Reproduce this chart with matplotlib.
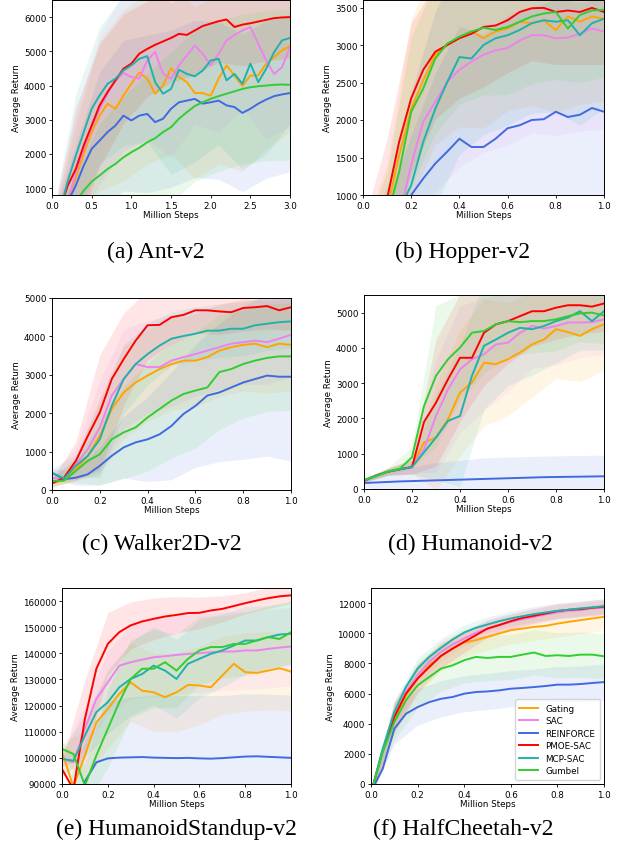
import matplotlib
matplotlib.use("Agg")
import matplotlib.pyplot as plt
import numpy as np

plt.rcParams["font.family"] = ["DejaVu Sans"]

W, H = 619, 854

NAMES = ["Gating", "SAC", "REINFORCE", "PMOE-SAC", "MCP-SAC", "Gumbel"]
COLORS = ["orange", "violet", "royalblue", "red", "lightseagreen", "limegreen"]

# ---- Ant-v2 (0..3M steps) ----
ANT_STEPS = [0.0, 0.1, 0.2, 0.3, 0.4, 0.5, 0.6, 0.7, 0.8, 0.9, 1.0, 1.1, 1.2, 1.3, 1.4, 1.5,
             1.6, 1.7, 1.8, 1.9, 2.0, 2.1, 2.2, 2.3, 2.4, 2.5, 2.6, 2.7, 2.8, 2.9, 3.0]
ANT_GATING = [-200, 100, 700, 1300, 2000, 2640, 3120, 3470, 3320, 3710, 4050, 4380, 4200, 3760,
              4000, 4500, 4250, 4100, 3780, 3780, 3700, 4200, 4590, 4290, 3990, 4290, 4300, 4640,
              4830, 5030, 5150]
ANT_SAC = [-300, 0, 600, 1470, 2150, 2780, 3320, 3760, 4150, 4370, 4250, 4200, 4730, 4980, 4340,
           4200, 4590, 4880, 5170, 4930, 4590, 4930, 5320, 5480, 5610, 5710, 5220, 4730, 4340,
           4540, 5120]
ANT_REINFORCE = [-100, 200, 600, 1080, 1660, 2150, 2390, 2640, 2830, 3120, 2980, 3120, 3170, 2930,
                 3030, 3320, 3510, 3560, 3610, 3470, 3510, 3560, 3420, 3370, 3200, 3320, 3470,
                 3590, 3690, 3740, 3780]
ANT_PMOE = [-200, 400, 1080, 1560, 2250, 2830, 3420, 3810, 4150, 4490, 4640, 4930, 5070, 5190,
            5290, 5390, 5510, 5480, 5610, 5740, 5810, 5880, 5930, 5710, 5780, 5820, 5870, 5920,
            5970, 5990, 6000]
ANT_MCP = [-200, 350, 1220, 1950, 2640, 3320, 3710, 4050, 4200, 4440, 4590, 4780, 4860, 4100,
           3760, 3900, 4460, 4340, 4270, 4440, 4730, 4780, 4150, 4340, 4050, 4640, 4100, 4490,
           4980, 5320, 5390]
ANT_GUMBEL = [-200, 0, 300, 600, 930, 1190, 1370, 1560, 1710, 1900, 2050, 2180, 2340, 2460, 2640,
              2780, 3030, 3220, 3400, 3510, 3610, 3690, 3760, 3830, 3900, 3950, 3980, 4000, 4020,
              4030, 4020]
# std band half-widths at every third step
ANT_GATING_SD = [200, 1500, 2200, 2500, 2500, 2500, 2500, 2500, 2500, 2500, 2500]
ANT_SAC_SD = [200, 1600, 2200, 2300, 2300, 2300, 2300, 2300, 2300, 2300, 2300]
ANT_REINFORCE_SD = [200, 1200, 2000, 2200, 2300, 2300, 2300, 2300, 2300, 2300, 2300]
ANT_PMOE_SD = [300, 1800, 1800, 1600, 1400, 1300, 1300, 1200, 1200, 1200, 1200]
ANT_MCP_SD = [300, 1800, 2000, 2200, 2500, 2500, 2500, 2500, 2500, 2500, 2500]
ANT_GUMBEL_SD = [200, 800, 1500, 1800, 2000, 2200, 2200, 2200, 2200, 2200, 2200]

# ---- shared 0..1M step grid ----
STEPS = [0.0, 0.05, 0.1, 0.15, 0.2, 0.25, 0.3, 0.35, 0.4, 0.45, 0.5,
         0.55, 0.6, 0.65, 0.7, 0.75, 0.8, 0.85, 0.9, 0.95, 1.0]

# ---- Hopper-v2 ----
HOP_GATING = [400, 600, 800, 1530, 2150, 2530, 2870, 3000, 3110, 3180, 3090, 3180, 3220, 3310,
              3290, 3330, 3200, 3380, 3310, 3380, 3350]
HOP_SAC = [400, 500, 600, 700, 1400, 1980, 2240, 2510, 2670, 2780, 2870, 2930, 2960, 3060, 3130,
           3130, 3090, 3100, 3150, 3220, 3180]
HOP_REINFORCE = [400, 500, 600, 700, 1000, 1220, 1420, 1580, 1750, 1640, 1640, 1750, 1890, 1930,
                 2000, 2010, 2110, 2040, 2070, 2160, 2110]
HOP_PMOE = [500, 700, 950, 1710, 2290, 2670, 2910, 3000, 3090, 3150, 3240, 3260, 3330, 3440,
            3490, 3495, 3440, 3460, 3440, 3495, 3440]
HOP_MCP = [400, 500, 600, 800, 1130, 1710, 2150, 2510, 2840, 2820, 3000, 3090, 3130, 3200, 3290,
           3330, 3310, 3330, 3130, 3290, 3350]
HOP_GUMBEL = [400, 550, 700, 1310, 2110, 2420, 2820, 3020, 3110, 3180, 3230, 3200, 3240, 3310,
              3380, 3420, 3440, 3220, 3400, 3460, 3470]
HOP_GATING_SD = [100, 600, 1200, 1200, 1200, 1200, 1100, 1100, 1100, 1100, 1100]
HOP_SAC_SD = [100, 500, 1000, 1200, 1300, 1300, 1300, 1300, 1300, 1300, 1300]
HOP_REINFORCE_SD = [100, 300, 800, 1200, 1500, 1500, 1500, 1500, 1500, 1500, 1500]
HOP_PMOE_SD = [100, 800, 1000, 900, 800, 800, 700, 700, 700, 700, 700]
HOP_MCP_SD = [100, 500, 1200, 1300, 1300, 1200, 1200, 1200, 1200, 1200, 1200]
HOP_GUMBEL_SD = [100, 600, 1000, 1000, 900, 900, 900, 900, 900, 900, 900]

# ---- Walker2D-v2 ----
WLK_GATING = [190, 250, 540, 890, 1410, 2110, 2540, 2800, 2980, 3150, 3280, 3370, 3370, 3460,
              3630, 3720, 3780, 3810, 3720, 3810, 3780]
WLK_SAC = [320, 270, 670, 1060, 1630, 2460, 2890, 3280, 3200, 3200, 3370, 3460, 3540, 3630, 3720,
           3810, 3850, 3890, 3850, 3940, 4040]
WLK_REINFORCE = [450, 280, 320, 410, 630, 890, 1110, 1240, 1320, 1450, 1670, 1980, 2190, 2460,
                 2540, 2670, 2800, 2890, 2980, 2950, 2950]
WLK_PMOE = [170, 320, 760, 1410, 2020, 2890, 3410, 3890, 4290, 4300, 4500, 4560, 4680, 4680, 4650,
            4630, 4740, 4760, 4790, 4680, 4760]
WLK_MCP = [450, 300, 630, 890, 1320, 2190, 2890, 3280, 3540, 3760, 3940, 4010, 4070, 4150, 4150,
           4200, 4200, 4290, 4330, 4370, 4390]
WLK_GUMBEL = [240, 240, 500, 760, 930, 1320, 1500, 1630, 1890, 2110, 2330, 2500, 2590, 2670, 3070,
              3150, 3280, 3370, 3440, 3480, 3480]
WLK_GATING_SD = [100, 300, 1000, 1200, 1200, 1200, 1200, 1200, 1200, 1200, 1200]
WLK_SAC_SD = [100, 400, 1200, 1300, 1200, 1200, 1100, 1100, 1100, 1100, 1100]
WLK_REINFORCE_SD = [100, 200, 500, 800, 1100, 1400, 1600, 1800, 2000, 2100, 2200]
WLK_PMOE_SD = [100, 500, 1500, 1200, 900, 700, 600, 600, 600, 600, 600]
WLK_MCP_SD = [100, 300, 1000, 900, 800, 700, 700, 700, 700, 700, 700]
WLK_GUMBEL_SD = [100, 300, 800, 1200, 1400, 1500, 1500, 1500, 1400, 1400, 1400]

# ---- Humanoid-v2 ----
HUM_GATING = [250, 380, 490, 560, 640, 1320, 1460, 1980, 2730, 3020, 3580, 3540, 3680, 3870,
              4100, 4240, 4530, 4450, 4340, 4530, 4670]
HUM_SAC = [250, 380, 490, 560, 640, 1130, 2070, 2830, 3390, 3680, 3820, 4100, 4150, 4430, 4620,
           4550, 4620, 4720, 4720, 4730, 4810]
HUM_REINFORCE = [170, 185, 200, 215, 225, 235, 245, 255, 265, 275, 285, 295, 305, 315, 325, 335,
                 340, 345, 350, 355, 360]
HUM_PMOE = [230, 380, 490, 560, 620, 1900, 2450, 3110, 3720, 3720, 4430, 4670, 4760, 4900, 5040,
            5040, 5140, 5210, 5210, 5170, 5260]
HUM_MCP = [250, 380, 490, 560, 620, 1040, 1460, 1930, 2070, 3210, 4060, 4240, 4430, 4570, 4530,
           4620, 4760, 4860, 5040, 4760, 5040]
HUM_GUMBEL = [250, 360, 500, 580, 900, 2350, 3210, 3680, 4010, 4430, 4480, 4670, 4760, 4730, 4760,
              4760, 4810, 4900, 4980, 5000, 4920]
HUM_GATING_SD = [50, 100, 200, 1500, 1800, 1800, 1600, 1500, 1400, 1300, 1300]
HUM_SAC_SD = [50, 100, 200, 1600, 1800, 1600, 1400, 1200, 1100, 1000, 1000]
HUM_REINFORCE_SD = [100, 300, 400, 500, 550, 600, 600, 600, 600, 600, 600]
HUM_PMOE_SD = [50, 100, 200, 1800, 1800, 1500, 1200, 1000, 900, 800, 800]
HUM_MCP_SD = [50, 100, 200, 1200, 2000, 1800, 1500, 1300, 1200, 1100, 1100]
HUM_GUMBEL_SD = [50, 100, 300, 2000, 1500, 1200, 1000, 900, 900, 800, 800]

# ---- HumanoidStandup-v2 ----
HST_GATING = [102100, 89000, 100900, 113600, 118700, 124500, 128900, 125700, 125100, 123200,
              125100, 127900, 127700, 127000, 131500, 136000, 132800, 132500, 133400, 134300,
              133000]
HST_SAC = [99600, 98300, 111100, 122600, 128900, 135300, 136600, 137600, 138500, 138900, 139400,
           139800, 140100, 140400, 140700, 140700, 141100, 141100, 141700, 142200, 142600]
HST_REINFORCE = [82000, 76000, 91000, 98300, 99800, 100100, 100200, 100300, 100100, 100000,
                 99900, 100000, 99800, 99700, 99900, 100200, 100500, 100600, 100400, 100200,
                 100000]
HST_PMOE = [95700, 88000, 114900, 134100, 143600, 148100, 150700, 152200, 153200, 154100, 154700,
            155400, 155500, 156400, 157000, 158100, 159200, 160200, 161100, 161800, 162200]
HST_MCP = [99600, 98900, 108500, 117500, 121300, 127000, 130200, 132100, 135300, 133400, 130200,
           136000, 137900, 139800, 141100, 143000, 144900, 144900, 146200, 147200, 147500]
HST_GUMBEL = [103400, 101500, 89400, 100900, 111100, 121300, 130200, 134100, 134100, 136600,
              133400, 137900, 141100, 142400, 142400, 143600, 143600, 144900, 146200, 145500,
              148100]
HST_GATING_SD = [3000, 10000, 15000, 15000, 15000, 15000, 15000, 15000, 15000, 15000, 15000]
HST_SAC_SD = [3000, 8000, 12000, 14000, 15000, 15000, 15000, 15000, 15000, 15000, 15000]
HST_REINFORCE_SD = [3000, 15000, 22000, 23000, 24000, 24000, 24000, 24000, 24000, 24000, 24000]
HST_PMOE_SD = [3000, 15000, 12000, 9000, 8000, 7000, 6000, 5000, 4000, 4000, 3000]
HST_MCP_SD = [3000, 8000, 12000, 14000, 15000, 15000, 15000, 14000, 13000, 12000, 12000]
HST_GUMBEL_SD = [3000, 8000, 15000, 15000, 15000, 14000, 13000, 12000, 12000, 12000, 12000]

# ---- HalfCheetah-v2 ----
HCH_GATING = [-600, 2200, 4330, 5880, 6990, 7870, 8490, 8980, 9380, 9540, 9760, 9980, 10200,
              10310, 10420, 10490, 10640, 10760, 10870, 10980, 11090]
HCH_SAC = [-600, 2200, 4550, 6100, 7210, 8100, 8760, 9250, 9650, 10030, 10310, 10540, 10760,
           10930, 11090, 11250, 11380, 11490, 11530, 11650, 11690]
HCH_REINFORCE = [-500, 1000, 3660, 4660, 5100, 5430, 5650, 5770, 5990, 6100, 6140, 6210, 6320,
                 6370, 6430, 6500, 6590, 6590, 6630, 6700, 6760]
HCH_PMOE = [-600, 2200, 4440, 5990, 6990, 7760, 8490, 8980, 9430, 9870, 10310, 10540, 10800,
            11020, 11160, 11310, 11470, 11560, 11600, 11690, 11760]
HCH_MCP = [-600, 2330, 4770, 6430, 7650, 8430, 9030, 9580, 10050, 10360, 10580, 10800, 10980,
           11130, 11270, 11380, 11490, 11560, 11650, 11710, 11800]
HCH_GUMBEL = [-600, 2100, 4100, 5550, 6540, 7100, 7650, 7870, 8210, 8430, 8360, 8430, 8430, 8580,
              8720, 8490, 8540, 8490, 8580, 8580, 8470]
HCH_GATING_SD = [300, 1000, 1000, 1000, 900, 900, 900, 900, 900, 900, 900]
HCH_SAC_SD = [300, 900, 700, 600, 500, 500, 500, 500, 500, 500, 500]
HCH_REINFORCE_SD = [300, 1000, 1200, 1200, 1200, 1200, 1200, 1200, 1200, 1200, 1200]
HCH_PMOE_SD = [300, 1000, 900, 800, 700, 600, 500, 500, 500, 500, 500]
HCH_MCP_SD = [300, 800, 700, 600, 500, 500, 500, 500, 500, 500, 500]
HCH_GUMBEL_SD = [300, 1200, 1500, 1500, 1500, 1500, 1500, 1500, 1500, 1500, 1500]


def px_axes(fig, left, top, right, bottom):
    """Add axes from pixel box (origin top-left)."""
    return fig.add_axes([left / W, 1 - bottom / H, (right - left) / W, (bottom - top) / H])


def draw_panel(ax, steps, means, sds, xlim, ylim, xticks):
    steps = np.asarray(steps, dtype=float)
    stride = (len(steps) - 1) // (len(sds[0]) - 1)
    for mean, sd, color in zip(means, sds, COLORS):
        m = np.asarray(mean, dtype=float)[::stride]
        s = np.asarray(sd, dtype=float)
        ax.fill_between(steps[::stride], m - s, m + s, color=color, alpha=0.1, lw=0)
    for mean, name, color in zip(means, NAMES, COLORS):
        ax.plot(steps, mean, color=color, lw=1.4, label=name)
    ax.set_xlim(*xlim)
    ax.set_ylim(*ylim)
    ax.set_xticks(xticks)
    ax.ticklabel_format(axis="y", useOffset=False, style="plain")
    ax.tick_params(labelsize=6.3, length=2.5, width=0.6, pad=1.5)
    ax.set_xlabel("Million Steps", fontsize=6.3, labelpad=0.5)
    ax.set_ylabel("Average Return", fontsize=6.3, labelpad=2)
    for sp in ax.spines.values():
        sp.set_linewidth(0.7)


fig = plt.figure(figsize=(W / 100, H / 100), dpi=100)
unit_ticks = [0.0, 0.2, 0.4, 0.6, 0.8, 1.0]

ax = px_axes(fig, 52, 1, 290, 196)
draw_panel(ax, ANT_STEPS,
           [ANT_GATING, ANT_SAC, ANT_REINFORCE, ANT_PMOE, ANT_MCP, ANT_GUMBEL],
           [ANT_GATING_SD, ANT_SAC_SD, ANT_REINFORCE_SD, ANT_PMOE_SD, ANT_MCP_SD, ANT_GUMBEL_SD],
           (0, 3), (800, 6500), [0.0, 0.5, 1.0, 1.5, 2.0, 2.5, 3.0])

ax = px_axes(fig, 363, 1, 604, 196)
draw_panel(ax, STEPS,
           [HOP_GATING, HOP_SAC, HOP_REINFORCE, HOP_PMOE, HOP_MCP, HOP_GUMBEL],
           [HOP_GATING_SD, HOP_SAC_SD, HOP_REINFORCE_SD, HOP_PMOE_SD, HOP_MCP_SD, HOP_GUMBEL_SD],
           (0, 1), (1000, 3600), unit_ticks)

ax = px_axes(fig, 52, 299, 291, 491)
draw_panel(ax, STEPS,
           [WLK_GATING, WLK_SAC, WLK_REINFORCE, WLK_PMOE, WLK_MCP, WLK_GUMBEL],
           [WLK_GATING_SD, WLK_SAC_SD, WLK_REINFORCE_SD, WLK_PMOE_SD, WLK_MCP_SD, WLK_GUMBEL_SD],
           (0, 1), (0, 5000), unit_ticks)

ax = px_axes(fig, 364, 296, 604, 490)
draw_panel(ax, STEPS,
           [HUM_GATING, HUM_SAC, HUM_REINFORCE, HUM_PMOE, HUM_MCP, HUM_GUMBEL],
           [HUM_GATING_SD, HUM_SAC_SD, HUM_REINFORCE_SD, HUM_PMOE_SD, HUM_MCP_SD, HUM_GUMBEL_SD],
           (0, 1), (0, 5500), unit_ticks)

ax = px_axes(fig, 62, 589, 291, 785)
draw_panel(ax, STEPS,
           [HST_GATING, HST_SAC, HST_REINFORCE, HST_PMOE, HST_MCP, HST_GUMBEL],
           [HST_GATING_SD, HST_SAC_SD, HST_REINFORCE_SD, HST_PMOE_SD, HST_MCP_SD, HST_GUMBEL_SD],
           (0, 1), (90000, 165000), unit_ticks)

ax = px_axes(fig, 371, 589, 604, 785)
draw_panel(ax, STEPS,
           [HCH_GATING, HCH_SAC, HCH_REINFORCE, HCH_PMOE, HCH_MCP, HCH_GUMBEL],
           [HCH_GATING_SD, HCH_SAC_SD, HCH_REINFORCE_SD, HCH_PMOE_SD, HCH_MCP_SD, HCH_GUMBEL_SD],
           (0, 1), (0, 13000), unit_ticks)
ax.legend(loc="lower right", fontsize=6.3, handlelength=2.2, borderpad=0.5,
          labelspacing=0.4, framealpha=0.8, edgecolor="#cccccc", fancybox=True)

captions = [
    ("(a) Ant-v2", 156, 252), ("(b) Hopper-v2", 463, 252),
    ("(c) Walker2D-v2", 162, 544), ("(d) Humanoid-v2", 470, 544),
    ("(e) HumanoidStandup-v2", 176, 829), ("(f) HalfCheetah-v2", 463, 829),
]
for text, cx, cy in captions:
    fig.text(cx / W, 1 - cy / H, text, ha="center", va="center",
             fontsize=17, family="Liberation Serif")

fig.savefig("out.png", dpi=100)
